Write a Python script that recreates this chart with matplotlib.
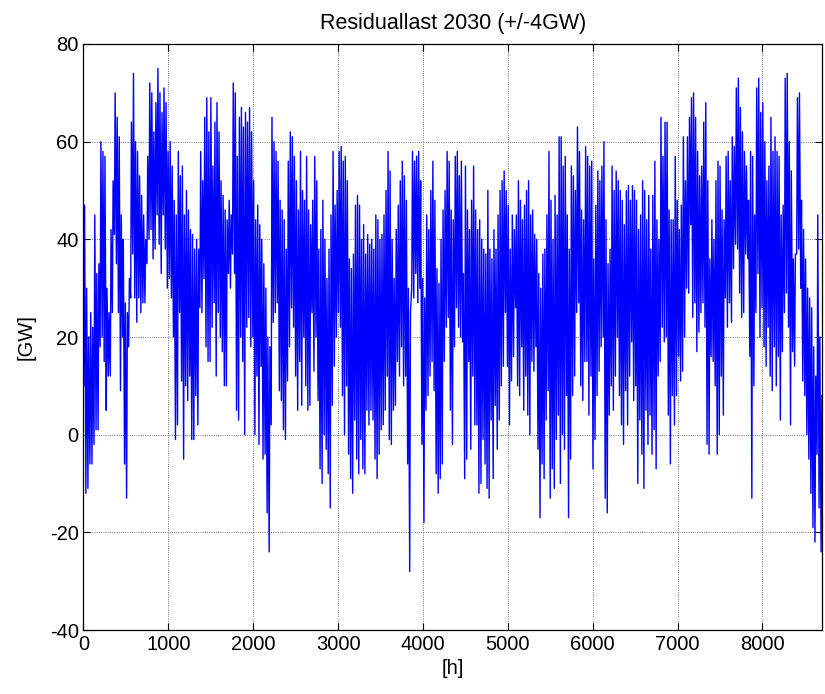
import numpy as np
import matplotlib
matplotlib.use("Agg")
import matplotlib.pyplot as plt

daily_max = [
    47, 30, 20, 25, 22, 45, 33, 35, 60, 58,
    57, 30, 25, 42, 52, 70, 65, 61, 45, 40,
    27, 25, 32, 64, 74, 60, 58, 53, 49, 45,
    40, 57, 72, 70, 62, 68, 75, 70, 66, 71,
    68, 58, 60, 55, 48, 45, 58, 53, 55, 45,
    50, 46, 42, 41, 38, 40, 38, 58, 52, 65,
    69, 62, 69, 55, 64, 68, 62, 52, 49, 46,
    44, 48, 45, 72, 70, 57, 65, 67, 63, 66,
    64, 67, 62, 52, 44, 47, 43, 40, 35, 30,
    20, 18, 65, 60, 58, 56, 48, 46, 44, 38,
    56, 62, 61, 57, 52, 46, 58, 50, 48, 57,
    46, 43, 48, 57, 52, 38, 42, 48, 40, 32,
    38, 45, 58, 47, 50, 58, 59, 56, 57, 52,
    36, 34, 37, 47, 49, 47, 40, 43, 37, 41,
    39, 40, 38, 45, 44, 40, 41, 45, 50, 58,
    54, 40, 32, 42, 47, 52, 56, 53, 48, 30,
    25, 58, 56, 57, 58, 52, 32, 28, 45, 42,
    50, 56, 48, 34, 31, 40, 46, 50, 58, 56,
    46, 44, 57, 58, 53, 56, 33, 55, 46, 42,
    48, 55, 46, 42, 44, 40, 38, 37, 50, 38,
    36, 42, 38, 45, 50, 52, 54, 50, 47, 38,
    45, 42, 45, 52, 48, 44, 47, 50, 52, 45,
    46, 41, 40, 33, 30, 37, 38, 45, 58, 48,
    40, 49, 45, 61, 61, 55, 57, 45, 38, 55,
    53, 50, 63, 58, 46, 44, 59, 57, 55, 56,
    36, 47, 54, 52, 55, 60, 44, 35, 38, 55,
    50, 54, 52, 50, 48, 43, 50, 51, 48, 51,
    50, 48, 42, 45, 52, 50, 44, 49, 38, 49,
    56, 44, 40, 65, 57, 64, 64, 46, 44, 44,
    57, 48, 42, 47, 61, 52, 61, 65, 69, 70,
    65, 58, 53, 55, 64, 68, 52, 36, 44, 40,
    52, 56, 55, 46, 44, 57, 58, 52, 61, 59,
    71, 73, 67, 62, 58, 55, 48, 58, 57, 45,
    71, 73, 66, 68, 60, 52, 55, 65, 58, 61,
    58, 57, 45, 47, 73, 74, 60, 54, 36, 37,
    69, 70, 48, 42, 36, 30, 28, 26, 18, 12,
    45, 20, 8,
]

daily_min = [
    10, -12, -11, -6, -6, -2, 1, 1, 18, 20,
    15, 5, 12, 12, 25, 41, 35, 25, 9, 20,
    -6, -13, 18, 28, 37, 28, 23, 28, 25, 27,
    27, 35, 40, 42, 36, 38, 45, 39, 33, 45,
    38, 30, 32, 28, 20, -1, 2, 25, 11, -5,
    10, 7, 12, -1, -1, 8, 2, 26, 25, 32,
    18, 15, 15, 22, 27, 12, 25, 20, 17, 10,
    10, 33, 30, 37, 33, 5, 3, 20, 15, 0,
    22, 24, 18, 20, 0, 12, -2, 14, -5, -4,
    -16, -24, 2, 23, 25, 27, 9, 7, 1, -1,
    11, 18, 26, 22, 12, 5, 15, 6, 20, 10,
    5, 6, 25, 13, 20, 7, -7, -10, 0, -3,
    -8, -15, 6, 14, 20, 25, 22, 8, 0, 10,
    -4, -9, -12, 3, -5, -8, -1, -7, -8, 5,
    2, 5, 3, -5, -9, -4, 1, 2, 5, 12,
    -1, -2, 5, 6, 15, 12, 18, 10, 12, -6,
    -28, 30, 28, 33, 27, 30, -2, -18, 5, 8,
    12, 15, 9, -8, -12, -9, -6, 15, 22, 24,
    5, -2, 18, 26, 22, 20, 19, -9, -5, 15,
    -3, 12, 2, 2, -12, -10, -1, -6, -11, -13,
    3, -9, 6, -3, 3, 10, 14, 25, 14, 2,
    11, 16, 26, 10, 8, 18, 5, 12, 4, 0,
    15, 13, 18, -3, -17, -6, -9, 3, 9, -13,
    -7, -11, -1, 4, -10, 0, -3, 8, -17, -5,
    8, 12, 25, 27, 10, 7, 15, 15, 4, 12,
    -7, -1, 8, 13, 18, 20, -13, -16, 4, 10,
    5, 12, 20, 8, 2, -2, 9, 2, 12, 19,
    7, 10, -10, 3, -4, -11, 5, -2, 4, -4,
    1, -7, 12, 15, 22, 19, 20, 4, -6, 8,
    2, 8, 16, 11, 13, 20, 30, 29, 43, 24,
    27, 17, 21, 25, 27, 22, -2, -4, 16, 15,
    10, -4, 0, 12, 4, 28, 22, 27, 23, 34,
    39, 38, 29, 24, 25, 37, 36, 16, -13, 10,
    25, 33, 20, 26, 18, 14, 22, 12, 9, 18,
    10, 16, 3, 17, 25, 29, 22, 2, 17, 14,
    37, 38, 30, 11, 8, 0, -5, -12, -19, -22,
    -4, -15, -24,
]

x_ticks = [0, 1000, 2000, 3000, 4000, 5000, 6000, 7000, 8000]
y_ticks = [-40, -20, 0, 20, 40, 60, 80]


def build_series():
    # low in the night, high in the day -> interleave to one hourly trace
    days = np.arange(len(daily_max))
    hours = np.column_stack([24 * days + 4, 24 * days + 13]).ravel()
    values = np.column_stack([daily_min, daily_max]).ravel()
    return hours, values


def plot_residual_load():
    plt.rcParams["font.family"] = ["Liberation Sans", "DejaVu Sans"]
    plt.rcParams["axes.unicode_minus"] = False
    hours, values = build_series()

    fig = plt.figure(figsize=(8.25, 6.94), dpi=100)
    ax = fig.add_axes([0.1012, 0.0922, 0.8952, 0.8444])
    ax.plot(hours, values, color="#0000ff", linewidth=1.0)

    ax.set_xlim(0, 8703)
    ax.set_ylim(-40, 80)
    ax.set_xticks(x_ticks)
    ax.set_yticks(y_ticks)
    ax.grid(True, color="black", linestyle=":", linewidth=0.6, alpha=0.7)
    ax.tick_params(direction="in", top=True, right=True, length=5,
                   labelsize=14.5, width=0.8)
    for s in ax.spines.values():
        s.set_linewidth(0.9)

    ax.set_title("Residuallast 2030 (+/-4GW)", fontsize=15.5, pad=11)
    ax.set_xlabel("[h]", fontsize=14.5, labelpad=4)
    ax.set_ylabel("[GW]", fontsize=14.5, labelpad=10)

    fig.savefig("out.png", dpi=100)


if __name__ == "__main__":
    plot_residual_load()
